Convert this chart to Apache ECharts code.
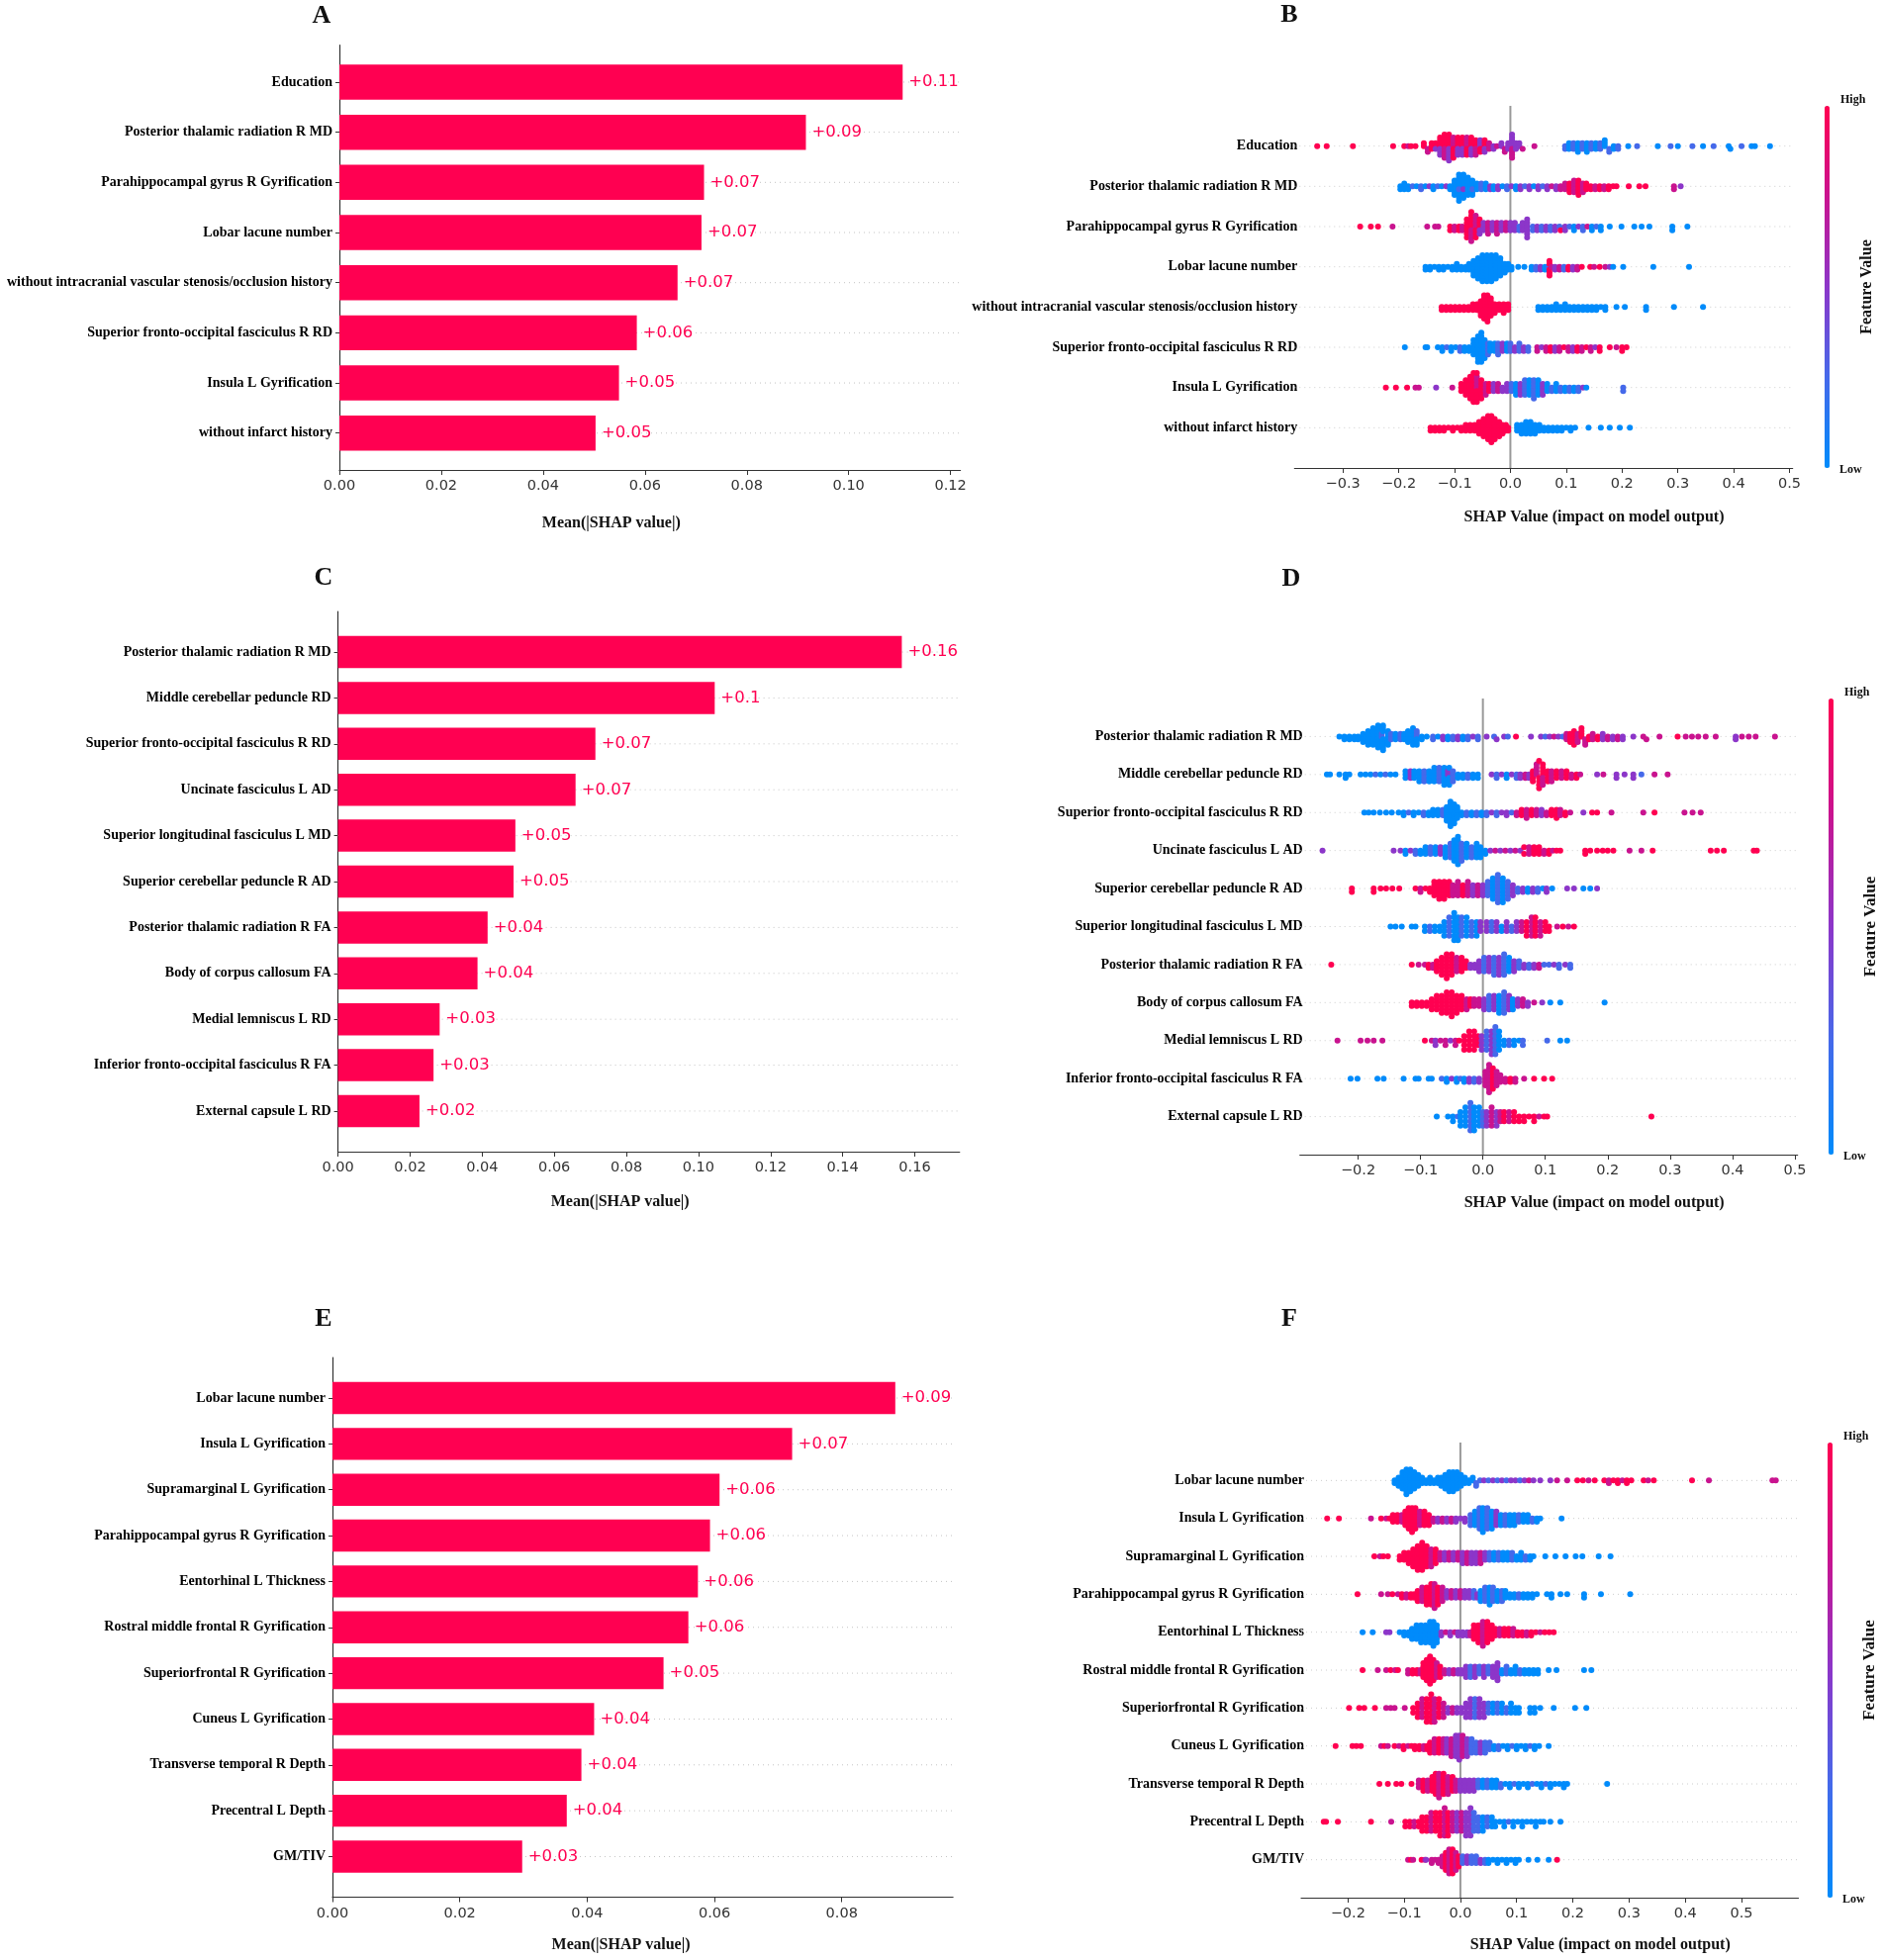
<!DOCTYPE html>
<html>
<head>
<meta charset="utf-8">
<title>SHAP summary</title>
<script src="https://cdn.jsdelivr.net/npm/echarts@6.0.0/dist/echarts.min.js"></script>
<style>
html,body{margin:0;padding:0;background:#fff}
#main{width:1902px;height:1981px}
</style>
</head>
<body>
<div id="main"></div>
<script>
// ---------- data ----------
// bar panels: mean(|SHAP|) per feature, top to bottom
var featA = ['Education', 'Posterior thalamic radiation R MD', 'Parahippocampal gyrus R Gyrification', 'Lobar lacune number',
  'without intracranial vascular stenosis/occlusion history', 'Superior fronto-occipital fasciculus R RD', 'Insula L Gyrification', 'without infarct history'];
var valA = [0.1106, 0.0916, 0.0716, 0.0711, 0.0664, 0.0584, 0.0549, 0.0503];
var ticksA = [0, 0.02, 0.04, 0.06, 0.08, 0.10, 0.12];

var featC = ['Posterior thalamic radiation R MD', 'Middle cerebellar peduncle RD', 'Superior fronto-occipital fasciculus R RD', 'Uncinate fasciculus L AD',
  'Superior longitudinal fasciculus L MD', 'Superior cerebellar peduncle R AD', 'Posterior thalamic radiation R FA', 'Body of corpus callosum FA',
  'Medial lemniscus L RD', 'Inferior fronto-occipital fasciculus R FA', 'External capsule L RD'];
var valC = [0.1564, 0.1045, 0.0714, 0.0659, 0.0492, 0.0487, 0.0415, 0.0387, 0.0282, 0.0265, 0.0226];
var ticksC = [0, 0.02, 0.04, 0.06, 0.08, 0.10, 0.12, 0.14, 0.16];

var featE = ['Lobar lacune number', 'Insula L Gyrification', 'Supramarginal L Gyrification', 'Parahippocampal gyrus R Gyrification',
  'Eentorhinal L Thickness', 'Rostral middle frontal R Gyrification', 'Superiorfrontal R Gyrification', 'Cuneus L Gyrification',
  'Transverse temporal R Depth', 'Precentral L Depth', 'GM/TIV'];
var valE = [0.0884, 0.0722, 0.0608, 0.0593, 0.0574, 0.0559, 0.0520, 0.0411, 0.0391, 0.0368, 0.0298];
var ticksE = [0, 0.02, 0.04, 0.06, 0.08];

// beeswarm panels: each entry is [shap value, feature value 0(low)..4(high), how many dots]
var featB = featA;
var ticksB = [-0.3, -0.2, -0.1, 0, 0.1, 0.2, 0.3, 0.4, 0.5];
var swarmB = [
  [[-0.346,4,1],[-0.329,4,1],[-0.282,4,1],[-0.21,4,1],[-0.19,4,1],[-0.183,3,1],[-0.178,4,1],[-0.17,4,1],
   [-0.155,4,2],[-0.148,3,2],[-0.141,4,3],[-0.134,4,2],[-0.134,2,1],
   [-0.126,4,4],[-0.126,2,3],[-0.118,4,5],[-0.118,3,4],[-0.110,4,5],[-0.110,2,5],[-0.102,3,4],[-0.102,4,4],[-0.094,4,4],[-0.094,2,3],
   [-0.086,4,4],[-0.086,2,3],[-0.078,3,4],[-0.078,4,3],[-0.070,4,4],[-0.070,2,3],[-0.062,4,3],[-0.062,3,3],
   [-0.054,2,3],[-0.054,4,2],[-0.046,4,3],[-0.046,2,2],[-0.038,3,3],[-0.030,2,2],[-0.024,3,1],
   [-0.016,2,2],[-0.010,3,2],[-0.004,2,3],[0.003,2,5],[0.003,3,4],[0.010,2,3],[0.016,2,2],[0.022,3,1],[0.043,3,1],
   [0.098,1,2],[0.105,0,3],[0.113,1,3],[0.121,0,4],[0.129,1,3],[0.137,0,4],[0.145,1,3],[0.153,0,3],[0.161,1,3],[0.169,0,3],[0.177,1,2],[0.185,0,2],[0.193,1,2],
   [0.211,0,1],[0.227,1,1],[0.264,0,1],[0.287,1,1],[0.30,0,1],[0.326,1,1],[0.345,0,1],[0.364,1,1],[0.391,0,1],[0.394,0,1],[0.414,1,1],[0.432,0,1],[0.438,0,1],[0.465,0,1]],
  [[-0.197,0,2],[-0.19,0,3],[-0.183,0,2],[-0.175,1,1],[-0.168,0,1],[-0.16,1,2],[-0.152,0,1],[-0.145,2,1],[-0.138,0,2],[-0.13,1,1],[-0.123,0,1],[-0.115,2,1],[-0.108,0,2],
   [-0.100,0,6],[-0.092,0,9],[-0.092,1,1],[-0.084,0,8],[-0.084,2,1],[-0.076,0,7],[-0.068,0,5],[-0.068,1,1],
   [-0.060,0,3],[-0.052,1,3],[-0.044,0,3],[-0.036,2,2],[-0.030,0,2],
   [-0.022,2,2],[-0.014,0,1],[-0.006,1,2],[0.002,2,1],[0.010,0,2],[0.018,2,2],[0.026,1,1],[0.034,2,2],[0.042,0,1],[0.050,2,2],[0.058,1,1],[0.066,2,2],[0.074,3,1],[0.082,2,2],[0.090,3,2],
   [0.098,3,3],[0.106,4,4],[0.114,3,5],[0.122,4,6],[0.130,3,4],[0.136,4,3],
   [0.144,4,2],[0.152,3,2],[0.160,4,2],[0.168,3,2],[0.176,4,2],[0.184,4,1],
   [0.19,4,1],[0.212,4,1],[0.231,4,1],[0.242,4,1],[0.293,3,2],[0.305,2,1]],
  [[-0.269,4,1],[-0.25,4,1],[-0.237,4,1],[-0.211,3,1],[-0.149,3,1],[-0.135,3,1],[-0.129,3,1],
   [-0.108,4,2],[-0.100,3,2],[-0.092,4,2],[-0.086,3,2],
   [-0.078,4,6],[-0.070,4,5],[-0.070,3,4],[-0.062,3,4],[-0.062,4,3],[-0.055,4,3],[-0.055,2,2],
   [-0.048,2,3],[-0.040,3,4],[-0.032,2,3],[-0.024,3,4],[-0.016,2,3],[-0.008,3,3],
   [0.000,2,3],[0.008,2,3],[0.016,1,2],[0.022,2,3],[0.030,2,6],
   [0.040,1,2],[0.048,2,2],[0.056,1,2],[0.064,2,2],[0.072,1,2],[0.080,2,2],[0.088,1,1],[0.090,4,1],
   [0.098,2,2],[0.106,1,1],[0.114,0,2],[0.122,2,1],[0.130,1,2],[0.138,3,1],[0.146,0,2],[0.154,1,1],[0.162,0,2],
   [0.178,0,1],[0.199,0,1],[0.222,0,1],[0.235,0,1],[0.249,0,1],[0.29,0,2],[0.317,0,1]],
  [[-0.152,0,2],[-0.144,0,2],[-0.136,0,1],[-0.128,0,2],[-0.120,0,2],[-0.112,0,1],[-0.104,0,2],[-0.096,0,3],[-0.088,0,2],[-0.080,0,2],[-0.074,0,3],
   [-0.066,0,6],[-0.058,0,8],[-0.050,0,10],[-0.042,0,10],[-0.034,0,10],[-0.026,0,9],[-0.018,0,7],[-0.010,0,4],
   [-0.004,0,3],[0.002,0,2],[0.014,0,1],[0.025,0,1],
   [0.038,0,2],[0.046,1,2],[0.054,2,2],[0.062,0,2],[0.068,1,1],[0.070,4,5],[0.074,3,1],
   [0.080,2,2],[0.088,3,2],[0.096,1,2],[0.104,4,2],[0.112,2,2],[0.120,3,2],[0.128,4,1],
   [0.143,4,1],[0.150,3,1],[0.160,4,1],[0.170,3,1],[0.178,2,1],[0.184,0,1],[0.202,0,1],[0.256,0,1],[0.32,0,1]],
  [[-0.123,4,2],[-0.115,4,2],[-0.107,4,2],[-0.099,4,2],[-0.091,4,2],[-0.083,4,2],[-0.075,4,2],[-0.067,4,3],[-0.060,4,3],
   [-0.053,4,6],[-0.047,4,9],[-0.041,4,10],[-0.035,4,7],
   [-0.028,4,4],[-0.020,4,3],[-0.012,4,4],[-0.004,4,3],
   [0.050,0,2],[0.058,0,2],[0.066,0,2],[0.074,0,2],[0.082,0,3],[0.090,0,2],[0.098,0,3],[0.106,0,2],[0.114,0,2],[0.122,0,2],[0.130,0,2],[0.138,0,2],[0.146,0,2],[0.154,0,2],[0.162,0,1],[0.170,0,2],
   [0.19,0,1],[0.205,0,1],[0.243,0,2],[0.293,0,1],[0.345,0,1]],
  [[-0.189,0,1],[-0.152,0,1],[-0.149,0,1],
   [-0.130,0,1],[-0.122,0,2],[-0.114,1,1],[-0.106,0,2],[-0.098,0,1],[-0.090,1,2],[-0.082,0,2],[-0.074,0,2],
   [-0.066,0,5],[-0.058,0,8],[-0.052,0,9],[-0.046,0,6],[-0.040,1,4],[-0.036,0,3],
   [-0.028,0,3],[-0.022,1,4],[-0.014,2,3],[-0.006,0,3],[0.000,1,3],
   [0.008,2,2],[0.016,1,3],[0.024,2,2],[0.032,1,2],
   [0.048,3,2],[0.056,2,1],[0.064,3,2],[0.072,4,2],[0.080,2,2],[0.088,3,2],[0.096,4,1],[0.104,3,2],[0.112,2,2],[0.120,4,2],[0.128,3,2],[0.136,4,1],[0.144,3,2],[0.152,2,1],[0.160,4,2],
   [0.178,4,1],[0.190,3,1],[0.200,4,2],[0.208,4,1]],
  [[-0.223,4,1],[-0.205,4,1],[-0.185,4,1],[-0.17,3,1],[-0.164,3,1],[-0.133,2,1],[-0.104,3,1],
   [-0.088,4,3],[-0.080,4,5],[-0.072,4,7],[-0.066,4,9],[-0.060,3,4],[-0.060,4,5],[-0.052,4,6],[-0.044,3,4],[-0.038,4,3],
   [-0.030,2,3],[-0.022,3,3],[-0.014,2,2],[-0.006,2,3],
   [0.002,1,3],[0.010,0,4],[0.018,2,4],[0.026,1,5],[0.034,0,5],[0.042,1,6],[0.050,0,5],[0.058,2,4],[0.066,0,3],
   [0.074,1,2],[0.082,0,3],[0.090,1,2],[0.098,0,2],[0.106,1,2],[0.114,0,2],[0.122,1,2],[0.130,2,1],[0.136,0,1],[0.202,1,2]],
  [[-0.143,4,2],[-0.135,4,2],[-0.127,4,2],[-0.119,4,2],[-0.111,4,1],[-0.103,4,2],[-0.095,4,1],[-0.088,4,2],
   [-0.080,4,3],[-0.072,4,3],[-0.064,4,3],
   [-0.056,4,5],[-0.048,4,7],[-0.040,4,9],[-0.034,4,10],[-0.028,4,8],[-0.020,4,6],[-0.014,4,4],[-0.008,4,3],[-0.004,4,2],
   [0.012,0,3],[0.020,0,4],[0.028,0,5],[0.036,0,5],[0.044,0,4],
   [0.052,0,3],[0.060,0,2],[0.068,0,2],[0.076,0,2],[0.084,0,2],[0.092,0,2],[0.100,0,1],[0.108,0,2],[0.116,0,1],
   [0.14,0,1],[0.162,0,1],[0.178,0,1],[0.196,0,1],[0.214,0,1]]
];

var featD = ['Posterior thalamic radiation R MD', 'Middle cerebellar peduncle RD', 'Superior fronto-occipital fasciculus R RD', 'Uncinate fasciculus L AD',
  'Superior cerebellar peduncle R AD', 'Superior longitudinal fasciculus L MD', 'Posterior thalamic radiation R FA', 'Body of corpus callosum FA',
  'Medial lemniscus L RD', 'Inferior fronto-occipital fasciculus R FA', 'External capsule L RD'];
var ticksD = [-0.2, -0.1, 0, 0.1, 0.2, 0.3, 0.4, 0.5];
var swarmD = [
  [[-0.230,0,1],[-0.222,0,2],[-0.214,0,2],[-0.206,0,2],[-0.200,0,2],
   [-0.192,0,4],[-0.184,0,6],[-0.176,0,7],[-0.168,0,9],[-0.162,1,2],[-0.160,0,8],[-0.152,0,6],[-0.147,1,3],
   [-0.140,0,3],[-0.132,1,3],[-0.126,0,3],[-0.120,0,5],[-0.112,0,7],[-0.106,1,3],[-0.106,0,3],[-0.098,0,2],[-0.090,0,1],
   [-0.080,1,2],[-0.072,0,1],[-0.064,2,2],[-0.056,0,2],[-0.048,1,2],[-0.040,2,2],[-0.032,0,2],[-0.024,1,2],[-0.016,2,1],[-0.008,1,2],
   [0.006,2,1],[0.018,1,1],[0.022,2,1],[0.034,2,1],[0.040,1,1],[0.053,4,1],[0.077,2,1],
   [0.093,2,1],[0.100,1,1],[0.107,2,1],[0.114,3,1],[0.121,2,1],[0.128,1,1],
   [0.134,3,3],[0.140,4,4],[0.146,4,6],[0.152,3,4],[0.158,4,4],[0.164,3,3],[0.170,4,2],
   [0.176,3,3],[0.184,4,2],[0.192,2,3],[0.200,3,2],[0.208,2,2],[0.216,3,2],[0.224,2,2],
   [0.241,2,1],[0.257,3,1],[0.262,3,1],[0.283,3,1],[0.312,4,1],[0.325,3,1],[0.335,3,1],[0.345,3,1],[0.357,3,1],[0.373,3,1],[0.405,2,2],[0.415,3,1],[0.426,3,1],[0.437,3,1],[0.468,3,1]],
  [[-0.25,0,1],[-0.245,0,1],[-0.23,0,1],[-0.22,0,2],[-0.214,0,1],[-0.196,0,1],[-0.188,0,1],
   [-0.180,0,1],[-0.172,1,1],[-0.164,0,1],[-0.156,1,1],[-0.148,0,1],[-0.140,0,1],
   [-0.124,0,3],[-0.116,2,3],[-0.110,0,3],
   [-0.102,0,4],[-0.094,1,4],[-0.086,0,4],[-0.078,0,5],[-0.070,1,5],[-0.062,0,6],[-0.056,2,2],[-0.054,0,4],[-0.048,1,4],
   [-0.040,0,2],[-0.032,0,2],[-0.024,1,2],[-0.016,0,2],[-0.008,0,2],
   [0.014,2,1],[0.022,1,2],[0.030,2,1],[0.038,0,2],[0.046,2,1],[0.054,1,2],
   [0.060,2,2],[0.068,3,2],[0.074,2,2],
   [0.080,4,4],[0.086,3,4],[0.090,4,5],[0.096,4,4],[0.096,3,3],[0.104,4,4],[0.110,3,4],
   [0.118,4,3],[0.126,3,3],[0.134,4,3],[0.142,3,2],[0.150,4,2],
   [0.156,3,1],[0.183,2,1],[0.193,3,1],[0.214,2,2],[0.227,2,1],[0.241,2,2],[0.254,1,1],[0.275,3,1],[0.296,3,1]],
  [[-0.19,0,1],[-0.183,0,1],[-0.175,0,1],[-0.165,0,1],[-0.155,0,1],[-0.146,0,1],
   [-0.135,0,1],[-0.127,0,2],[-0.119,1,1],[-0.111,0,2],[-0.103,0,1],[-0.095,1,2],[-0.087,0,2],
   [-0.080,0,3],[-0.072,0,3],[-0.064,1,3],
   [-0.058,0,6],[-0.052,0,10],[-0.046,0,8],[-0.041,0,5],
   [-0.034,0,2],[-0.026,1,2],[-0.018,0,2],[-0.010,1,2],[-0.002,0,2],[0.006,1,2],
   [0.014,2,1],[0.022,1,2],[0.030,2,1],[0.038,2,2],[0.046,1,1],
   [0.054,3,2],[0.062,4,3],[0.070,3,4],[0.078,4,3],[0.086,3,3],[0.094,2,3],[0.102,3,2],[0.110,4,3],[0.118,4,4],[0.124,3,3],[0.132,4,2],[0.140,3,1],
   [0.161,2,1],[0.175,4,1],[0.183,4,1],[0.206,3,1],[0.257,3,1],[0.275,4,1],[0.323,3,1],[0.336,3,1],[0.349,3,1]],
  [[-0.257,2,1],[-0.143,2,1],
   [-0.132,2,1],[-0.124,0,2],[-0.116,2,1],[-0.108,1,2],[-0.100,0,2],
   [-0.092,0,3],[-0.084,1,3],[-0.076,0,3],[-0.068,2,3],
   [-0.060,0,4],[-0.052,1,5],[-0.046,0,7],[-0.040,0,9],[-0.034,1,6],[-0.026,0,5],[-0.018,1,4],[-0.010,0,5],[-0.004,0,4],[0.004,0,2],
   [0.012,2,1],[0.020,3,1],[0.028,2,1],[0.036,3,1],[0.044,2,1],[0.052,3,1],[0.060,2,1],
   [0.066,4,2],[0.074,3,3],[0.082,4,3],[0.090,4,3],[0.098,3,2],[0.106,4,2],[0.112,3,1],
   [0.118,4,1],[0.124,4,1],[0.164,4,2],[0.172,4,1],[0.183,4,1],[0.192,4,1],[0.20,4,1],[0.209,4,1],[0.235,3,1],[0.254,3,1],[0.272,4,1],
   [0.365,4,1],[0.375,4,1],[0.386,4,1],[0.434,4,1],[0.439,4,1]],
  [[-0.21,4,2],[-0.175,4,2],[-0.164,4,1],[-0.155,4,1],[-0.145,4,1],[-0.134,4,1],
   [-0.108,4,1],[-0.100,3,2],[-0.092,4,1],[-0.085,4,2],
   [-0.078,4,5],[-0.070,4,6],[-0.062,4,6],[-0.054,4,5],[-0.048,3,4],
   [-0.040,3,5],[-0.032,4,4],[-0.024,3,5],[-0.016,2,4],[-0.008,3,4],[0.000,2,4],
   [0.008,1,5],[0.016,0,7],[0.024,1,9],[0.032,0,8],[0.040,1,6],[0.048,2,4],
   [0.056,1,2],[0.064,2,2],[0.072,0,2],[0.080,2,2],[0.088,1,2],[0.096,0,1],[0.102,2,2],
   [0.111,0,1],[0.135,2,1],[0.146,2,1],[0.161,0,1],[0.172,0,1],[0.183,2,1]],
  [[-0.148,0,1],[-0.14,0,1],[-0.13,0,1],[-0.114,0,1],[-0.108,0,1],
   [-0.093,0,2],[-0.085,1,2],[-0.077,0,2],[-0.069,0,2],
   [-0.062,0,4],[-0.054,1,5],[-0.046,0,7],[-0.040,0,6],[-0.034,1,5],[-0.026,0,5],[-0.018,1,4],[-0.010,0,4],[-0.004,2,3],
   [0.006,2,3],[0.014,1,3],[0.022,2,3],[0.030,0,2],[0.038,2,3],[0.046,1,2],
   [0.054,2,3],[0.062,3,3],[0.070,4,4],[0.078,3,5],[0.084,4,5],[0.092,3,4],[0.100,4,3],
   [0.106,4,2],[0.119,3,1],[0.128,4,1],[0.137,3,1],[0.146,4,1]],
  [[-0.243,4,1],[-0.114,4,1],[-0.103,3,1],[-0.093,3,1],[-0.087,4,2],[-0.080,3,2],
   [-0.074,4,4],[-0.066,4,6],[-0.058,4,8],[-0.050,4,7],[-0.042,3,5],[-0.034,4,5],[-0.027,4,3],
   [-0.020,2,2],[-0.013,2,2],
   [-0.006,2,4],[0.002,1,5],[0.010,2,5],[0.018,1,6],[0.026,2,6],[0.034,1,7],[0.042,0,5],[0.050,2,4],[0.058,1,3],
   [0.066,2,2],[0.074,1,2],[0.082,2,2],[0.090,3,2],[0.098,1,1],
   [0.106,1,1],[0.114,2,1],[0.122,1,2],[0.132,2,1],[0.140,1,2]],
  [[-0.114,4,2],[-0.106,4,2],[-0.098,4,2],[-0.090,4,2],
   [-0.082,4,4],[-0.074,4,5],[-0.066,4,6],[-0.058,4,7],[-0.050,4,8],[-0.042,4,6],[-0.034,4,5],[-0.026,3,4],[-0.020,4,3],
   [-0.014,3,3],[-0.006,3,3],
   [0.002,2,4],[0.010,1,5],[0.018,2,5],[0.026,0,6],[0.034,1,7],[0.042,2,5],[0.048,0,4],
   [0.056,2,3],[0.064,3,3],[0.072,2,2],
   [0.082,3,1],[0.095,2,1],[0.108,0,1],[0.124,0,1],[0.195,0,1]],
  [[-0.233,3,1],[-0.196,3,1],[-0.185,3,1],[-0.175,3,1],[-0.161,3,1],[-0.093,4,1],
   [-0.082,3,1],[-0.076,2,2],[-0.068,3,1],[-0.060,3,2],[-0.052,2,1],[-0.044,3,2],[-0.038,4,1],
   [-0.030,4,4],[-0.022,4,5],[-0.014,4,5],[-0.008,4,3],
   [-0.002,2,4],[0.006,1,5],[0.014,2,6],[0.020,1,7],[0.026,0,5],
   [0.034,0,2],[0.042,1,2],[0.050,0,2],[0.058,0,1],[0.064,1,2],
   [0.103,1,1],[0.124,0,1],[0.135,0,1]],
  [[-0.212,0,1],[-0.201,0,1],[-0.169,0,1],[-0.159,0,1],[-0.127,0,1],[-0.108,0,1],[-0.103,0,1],[-0.087,0,1],[-0.082,0,1],
   [-0.066,1,1],[-0.058,0,2],[-0.050,2,1],[-0.042,0,2],[-0.036,1,1],
   [-0.030,0,2],[-0.022,2,2],[-0.014,1,2],[-0.006,2,2],
   [0.004,3,5],[0.010,3,9],[0.016,4,7],[0.022,3,5],[0.028,3,3],
   [0.036,3,2],[0.044,4,2],[0.052,3,2],
   [0.066,3,1],[0.082,4,1],[0.098,4,1],[0.111,4,1]],
  [[-0.074,0,1],[-0.056,0,1],[-0.048,0,2],[-0.04,1,1],
   [-0.036,0,4],[-0.028,0,5],[-0.020,1,7],[-0.014,0,6],[-0.006,0,5],[0.000,1,4],
   [0.006,2,4],[0.014,3,5],[0.022,2,4],[0.028,3,3],
   [0.034,4,3],[0.042,3,3],[0.050,4,3],[0.058,4,2],
   [0.066,4,2],[0.074,4,1],[0.082,4,2],[0.090,3,1],[0.098,4,1],[0.103,4,1],[0.27,4,1]]
];

var featF = featE;
var ticksF = [-0.2, -0.1, 0, 0.1, 0.2, 0.3, 0.4, 0.5];
var swarmF = [
  [[-0.117,0,2],[-0.110,0,4],[-0.103,0,7],[-0.096,0,10],[-0.089,0,9],[-0.082,0,7],[-0.075,0,5],
   [-0.068,0,3],[-0.061,0,2],[-0.054,0,3],[-0.047,0,2],[-0.040,0,3],
   [-0.034,0,4],[-0.027,0,6],[-0.020,0,8],[-0.013,0,8],[-0.006,0,7],[0.001,0,5],[0.008,0,3],
   [0.015,0,2],[0.022,0,2],[0.028,1,2],
   [0.035,1,1],[0.042,2,1],[0.050,1,1],[0.058,2,1],[0.066,1,1],[0.074,2,1],[0.082,1,1],[0.090,2,1],[0.098,2,1],[0.106,1,1],[0.114,2,1],[0.122,3,1],[0.130,2,1],
   [0.142,2,1],[0.16,2,1],[0.172,3,1],[0.19,3,1],[0.208,4,1],[0.218,4,1],[0.228,3,1],[0.239,4,1],
   [0.256,4,1],[0.264,3,2],[0.272,4,1],[0.280,4,2],[0.288,3,1],[0.296,4,2],[0.304,4,1],
   [0.326,4,1],[0.334,3,1],[0.344,4,1],[0.412,4,1],[0.442,3,1],[0.555,3,1],[0.561,3,1]],
  [[-0.237,4,1],[-0.216,4,1],[-0.159,3,1],[-0.141,4,1],[-0.132,3,1],[-0.126,4,1],
   [-0.120,4,3],[-0.112,4,3],[-0.104,3,3],
   [-0.098,4,5],[-0.092,4,7],[-0.086,4,8],[-0.080,4,7],[-0.072,3,5],[-0.064,4,5],[-0.056,4,4],
   [-0.048,3,2],[-0.040,2,2],[-0.032,3,2],[-0.024,2,2],[-0.016,3,2],[-0.008,2,2],[0.000,2,1],[0.008,2,2],
   [0.018,1,4],[0.026,0,5],[0.034,1,7],[0.040,0,8],[0.048,1,7],[0.056,0,6],[0.064,2,5],
   [0.072,0,4],[0.080,1,4],[0.088,0,4],[0.096,0,4],[0.104,1,3],[0.112,0,3],[0.120,0,3],[0.128,1,2],[0.136,0,2],[0.142,0,1],[0.18,0,1]],
  [[-0.153,4,1],[-0.143,3,1],[-0.137,4,1],[-0.129,4,1],[-0.108,4,2],[-0.100,4,3],
   [-0.092,4,4],[-0.084,4,6],[-0.076,4,8],[-0.068,4,9],[-0.060,4,7],[-0.052,3,6],[-0.044,4,5],
   [-0.036,3,3],[-0.028,2,3],[-0.020,3,3],[-0.012,2,3],[-0.004,3,3],
   [0.004,2,4],[0.012,3,4],[0.020,2,4],[0.028,2,4],[0.036,3,4],[0.044,2,3],[0.052,1,3],
   [0.060,0,3],[0.068,1,3],[0.076,0,3],[0.084,0,3],[0.092,1,3],[0.100,0,2],[0.108,0,3],[0.116,1,2],[0.124,0,2],[0.130,0,1],
   [0.151,0,1],[0.169,0,1],[0.187,0,1],[0.205,0,1],[0.217,0,1],[0.246,0,1],[0.267,0,1]],
  [[-0.183,4,1],[-0.141,3,1],[-0.129,3,1],[-0.121,4,1],[-0.111,3,1],
   [-0.104,4,2],[-0.096,3,2],[-0.088,4,2],[-0.082,4,2],
   [-0.076,4,4],[-0.068,3,5],[-0.060,4,6],[-0.052,4,7],[-0.046,3,8],[-0.040,4,6],[-0.032,3,5],
   [-0.024,2,3],[-0.016,3,3],[-0.008,2,3],[0.000,3,3],[0.008,2,3],[0.016,2,3],[0.024,1,3],[0.030,2,2],
   [0.036,0,4],[0.044,1,5],[0.052,0,6],[0.058,1,5],[0.066,0,4],[0.074,1,4],[0.080,0,3],
   [0.088,0,2],[0.096,0,2],[0.104,1,2],[0.112,0,2],[0.120,0,2],[0.128,0,2],[0.136,0,1],
   [0.154,0,1],[0.162,0,2],[0.178,0,1],[0.19,0,1],[0.22,0,2],[0.25,0,1],[0.302,0,1]],
  [[-0.174,0,1],[-0.156,0,1],[-0.132,2,1],[-0.126,2,1],[-0.108,0,1],[-0.100,0,2],[-0.092,0,2],
   [-0.086,0,4],[-0.078,0,5],[-0.070,0,6],[-0.062,0,6],[-0.054,0,7],[-0.048,0,8],[-0.042,0,6],
   [-0.034,2,2],[-0.026,3,1],[-0.018,2,2],[-0.010,3,1],[-0.004,2,2],[0.004,2,2],[0.012,2,2],[0.018,3,2],
   [0.024,4,5],[0.032,4,6],[0.040,3,8],[0.048,4,7],[0.056,4,5],
   [0.062,4,3],[0.070,3,3],[0.078,4,3],[0.086,4,3],[0.094,3,3],[0.102,4,2],[0.110,4,2],[0.118,3,2],[0.126,4,2],
   [0.134,4,1],[0.142,3,1],[0.150,4,1],[0.158,4,1],[0.166,4,1]],
  [[-0.174,4,1],[-0.147,3,1],[-0.132,3,1],[-0.124,4,1],[-0.116,3,1],[-0.111,4,1],
   [-0.093,3,2],[-0.085,4,2],[-0.077,4,2],[-0.071,3,2],
   [-0.066,4,5],[-0.060,4,7],[-0.054,4,9],[-0.048,4,7],[-0.042,3,5],[-0.036,4,4],
   [-0.028,3,2],[-0.020,2,2],[-0.012,3,2],[-0.004,2,2],[0.002,2,2],
   [0.010,2,4],[0.018,1,4],[0.026,2,4],[0.034,1,3],[0.042,2,4],[0.050,1,3],[0.058,2,4],[0.066,2,6],
   [0.074,0,2],[0.082,1,3],[0.090,0,2],[0.098,0,3],[0.106,1,2],[0.114,0,2],[0.122,0,2],[0.130,0,2],[0.138,0,2],
   [0.157,0,1],[0.171,0,1],[0.22,0,1],[0.233,0,1]],
  [[-0.198,4,1],[-0.18,4,1],[-0.171,4,1],[-0.152,4,1],[-0.132,3,1],[-0.124,3,1],[-0.117,3,1],[-0.099,3,1],
   [-0.084,4,2],[-0.076,4,4],[-0.068,3,5],[-0.060,4,6],[-0.052,4,7],[-0.046,3,6],[-0.038,4,5],[-0.030,3,4],
   [-0.022,2,2],[-0.014,3,2],[-0.006,2,2],[0.002,2,2],
   [0.010,2,4],[0.018,2,5],[0.026,1,5],[0.034,2,5],[0.042,2,4],
   [0.050,1,3],[0.058,0,3],[0.066,1,3],[0.074,0,3],[0.082,1,2],[0.090,0,3],[0.098,0,2],[0.104,0,2],
   [0.124,0,2],[0.132,0,2],[0.142,0,1],[0.166,0,1],[0.204,0,1],[0.224,0,1]],
  [[-0.222,4,1],[-0.192,4,1],[-0.185,4,1],[-0.177,4,1],[-0.141,3,1],[-0.135,4,1],[-0.129,3,1],
   [-0.117,4,1],[-0.109,3,1],[-0.101,4,2],[-0.093,3,1],[-0.087,4,1],
   [-0.081,4,2],[-0.073,4,2],[-0.065,3,2],[-0.059,4,2],
   [-0.054,4,4],[-0.046,3,5],[-0.038,4,5],[-0.030,3,5],
   [-0.024,2,5],[-0.016,3,6],[-0.008,2,7],[-0.002,2,8],[0.004,3,7],[0.012,2,6],[0.020,1,5],
   [0.028,1,4],[0.036,2,4],[0.044,1,4],[0.052,1,3],
   [0.060,0,2],[0.068,1,2],[0.076,0,1],[0.084,0,2],[0.092,1,1],[0.100,0,2],[0.108,0,1],[0.116,0,2],[0.124,1,1],[0.132,0,2],[0.140,0,1],[0.157,0,1]],
  [[-0.144,4,1],[-0.129,4,1],[-0.114,4,1],[-0.105,4,1],[-0.087,4,1],
   [-0.074,3,3],[-0.066,4,4],[-0.058,3,4],
   [-0.050,4,5],[-0.044,4,7],[-0.038,3,8],[-0.030,4,7],[-0.022,3,6],[-0.014,4,5],[-0.008,3,4],
   [0.000,2,4],[0.008,2,4],[0.016,2,4],[0.024,2,4],[0.032,1,3],
   [0.040,0,3],[0.048,1,3],[0.056,0,3],[0.064,0,3],
   [0.072,1,2],[0.080,0,1],[0.088,0,2],[0.096,1,1],[0.104,0,2],[0.112,0,1],[0.120,0,2],[0.128,1,1],[0.136,0,1],[0.144,0,2],[0.152,1,1],[0.160,0,2],[0.168,0,1],[0.176,0,1],[0.184,0,2],[0.190,0,1],
   [0.261,0,1]],
  [[-0.243,4,1],[-0.239,4,1],[-0.218,4,1],[-0.159,4,1],[-0.123,3,1],
   [-0.098,4,2],[-0.090,4,2],[-0.082,3,2],[-0.074,4,2],
   [-0.068,4,4],[-0.060,4,4],[-0.052,3,5],[-0.044,4,5],[-0.036,4,6],[-0.028,3,7],[-0.022,4,6],
   [-0.014,3,5],[-0.006,2,5],[0.002,3,5],[0.010,2,6],[0.018,2,7],[0.024,1,5],
   [0.032,1,4],[0.040,0,4],[0.048,1,3],[0.056,0,3],
   [0.062,0,2],[0.070,0,1],[0.078,0,2],[0.086,1,1],[0.094,0,2],[0.102,0,1],[0.110,0,2],[0.118,0,1],[0.126,0,1],[0.134,0,2],[0.142,0,1],
   [0.148,0,1],[0.16,0,1],[0.178,0,1]],
  [[-0.093,3,1],[-0.088,4,1],[-0.084,3,1],[-0.069,4,1],[-0.063,3,1],[-0.061,2,1],
   [-0.051,3,2],[-0.045,3,1],[-0.039,3,2],
   [-0.032,3,4],[-0.026,4,6],[-0.020,3,8],[-0.014,4,8],[-0.008,3,6],[-0.003,4,4],
   [0.004,1,3],[0.012,2,3],[0.020,1,3],[0.028,1,3],[0.036,2,2],[0.044,1,2],
   [0.050,0,2],[0.058,0,1],[0.066,0,2],[0.074,0,1],[0.082,0,2],[0.090,0,1],[0.098,0,2],[0.104,0,1],
   [0.121,0,1],[0.137,0,1],[0.157,0,1],[0.172,4,1]]
];

// ---------- styling ----------
var RED = '#ff0051';
var RB = ['#008bfb', '#4569ea', '#8c36c9', '#c9138f', '#ff0051'];
var SERIF = '"Liberation Serif", "Times New Roman", serif';
var SANS = '"DejaVu Sans", sans-serif';

var grids = [], xAxes = [], yAxes = [], series = [], visualMaps = [], graphics = [];

function idxOf(names) { return names.map(function (d, i) { return i; }); }
function fmt1(v) { return (v < 0 ? '\u2212' : '') + Math.abs(v).toFixed(1); }
function plusLab(v) { return '+' + Number(v.toFixed(2)); }

function letter(t, x, y) {
  graphics.push({ type: 'text', x: x, y: y, style: { text: t, fill: '#111', font: 'bold 26px ' + SERIF, textAlign: 'center', textVerticalAlign: 'middle', align: 'center', verticalAlign: 'middle' } });
}

function xName(title, gap, shift) {
  var pad = shift > 0 ? [0, 0, 0, 2 * shift] : [0, -2 * shift, 0, 0];
  return {
    name: title, nameLocation: 'middle', nameGap: gap,
    nameTextStyle: { fontFamily: SERIF, fontWeight: 'bold', fontSize: 16, color: '#111', padding: pad }
  };
}

// horizontal bar panel (mean |SHAP|)
function barPanel(names, vals, ticks, box) {
  var gi = grids.length, n = names.length, idx = idxOf(names);
  var xmax = Math.max.apply(null, vals) * 1.05 * 1.05;
  var pad = 0.35 + 0.05 * (n - 1 + 0.7);
  grids.push({ left: box.left, top: box.top, width: box.width, height: box.height, containLabel: false, outerBoundsMode: 'none' });
  xAxes.push(Object.assign({
    type: 'value', gridIndex: gi, min: 0, max: xmax,
    axisLine: { show: true, onZero: false, lineStyle: { color: '#333', width: 1.2 } },
    axisTick: { show: true, length: 5, customValues: ticks, lineStyle: { color: '#333' } },
    axisLabel: { customValues: ticks, formatter: function (v) { return v.toFixed(2); }, fontFamily: SANS, fontSize: 14.5, color: '#333', margin: 9 },
    splitLine: { show: false }
  }, xName('Mean(|SHAP value|)', box.gap, box.shift)));
  yAxes.push({
    type: 'value', gridIndex: gi, inverse: true, min: -pad, max: n - 1 + pad,
    axisLine: { show: true, onZero: false, lineStyle: { color: '#333', width: 1.2 } },
    axisTick: { show: true, length: 4, customValues: idx, lineStyle: { color: '#333' } },
    axisLabel: { customValues: idx, formatter: function (v) { return names[v]; }, fontFamily: SERIF, fontWeight: 'bold', fontSize: 14, color: '#000', margin: 7 },
    splitLine: { show: false }
  });
  series.push({
    type: 'custom', xAxisIndex: gi, yAxisIndex: gi,
    data: vals.map(function (v, i) { return [v, i]; }),
    renderItem: function (params, api) {
      var v = api.value(0), i = api.value(1);
      var a = api.coord([0, i]), b = api.coord([v, i]), e = api.coord([xmax, i]);
      var h = api.size([0, 0.7])[1];
      return {
        type: 'group', children: [
          { type: 'line', shape: { x1: a[0], y1: a[1], x2: e[0], y2: e[1] }, style: { stroke: '#c4c4c4', lineWidth: 1, lineDash: [1, 4] } },
          { type: 'rect', shape: { x: a[0], y: a[1] - h / 2, width: b[0] - a[0], height: h }, style: { fill: RED } },
          { type: 'text', x: b[0] + 6, y: b[1], style: { text: plusLab(v), fill: RED, font: '16.5px ' + SANS, textAlign: 'left', textVerticalAlign: 'middle', align: 'left', verticalAlign: 'middle' } }
        ]
      };
    }
  });
}

// beeswarm layout as in shap: 100 bins per row, dots stacked alternately up/down,
// outermost layer at 0.36 of a row
function swarmRow(entries, row) {
  var pts = [];
  entries.forEach(function (e, j) {
    for (var k = 0; k < (e[2] || 1); k++) pts.push({ x: e[0], c: e[1], k: k, j: j });
  });
  var lo = Infinity, hi = -Infinity;
  pts.forEach(function (p) { lo = Math.min(lo, p.x); hi = Math.max(hi, p.x); });
  pts.forEach(function (p) { p.q = Math.round(100 * (p.x - lo) / (hi - lo + 1e-8)); });
  var order = pts.slice().sort(function (a, b) { return a.q - b.q || a.k - b.k || a.j - b.j; });
  var layer = 0, last = -1, top = 1;
  order.forEach(function (p) {
    if (p.q !== last) layer = 0;
    p.ys = Math.ceil(layer / 2) * ((layer % 2) * 2 - 1);
    layer++; last = p.q;
    if (p.ys > top) top = p.ys;
  });
  var s = 0.36 / top;
  return pts.map(function (p) { return [p.x, row + p.ys * s, p.c]; });
}

function swarmPanel(names, rows, ticks, box, cb) {
  var gi = grids.length, n = names.length, idx = idxOf(names);
  var pts = [];
  rows.forEach(function (r, i) { pts = pts.concat(swarmRow(r, i)); });
  var lo = Infinity, hi = -Infinity;
  pts.forEach(function (p) { lo = Math.min(lo, p[0]); hi = Math.max(hi, p[0]); });
  var span = hi - lo, xmin = lo - 0.05 * span, xmax = hi + 0.05 * span;
  grids.push({ left: box.left, top: box.top, width: box.width, height: box.height, containLabel: false, outerBoundsMode: 'none' });
  xAxes.push(Object.assign({
    type: 'value', gridIndex: gi, min: xmin, max: xmax,
    axisLine: { show: true, onZero: false, lineStyle: { color: '#333', width: 1.2 } },
    axisTick: { show: true, length: 5, customValues: ticks, lineStyle: { color: '#333' } },
    axisLabel: { customValues: ticks, formatter: fmt1, fontFamily: SANS, fontSize: 14.5, color: '#333', margin: 9 },
    splitLine: { show: false }
  }, xName('SHAP Value (impact on model output)', box.gap, box.shift)));
  yAxes.push({
    type: 'value', gridIndex: gi, inverse: true, min: -1, max: n,
    axisLine: { show: false, onZero: false }, axisTick: { show: false },
    axisLabel: { customValues: idx, formatter: function (v) { return names[v]; }, fontFamily: SERIF, fontWeight: 'bold', fontSize: 14, color: '#000', margin: -3 },
    splitLine: { show: false }
  });
  // dotted row lines and the zero line, behind the dots
  series.push({
    type: 'custom', xAxisIndex: gi, yAxisIndex: gi, z: 1,
    data: idx.map(function (i) { return [0, i]; }),
    renderItem: function (params, api) {
      var i = api.value(1);
      var a = api.coord([xmin, i]), b = api.coord([xmax, i]);
      var kids = [{ type: 'line', shape: { x1: a[0], y1: a[1], x2: b[0], y2: b[1] }, style: { stroke: '#cccccc', lineWidth: 1, lineDash: [1, 4] } }];
      if (i === 0) {
        var t = api.coord([0, -1]), u = api.coord([0, n]);
        kids.push({ type: 'line', shape: { x1: t[0], y1: t[1], x2: u[0], y2: u[1] }, style: { stroke: '#999999', lineWidth: 2 } });
      }
      return { type: 'group', children: kids };
    }
  });
  series.push({
    type: 'scatter', xAxisIndex: gi, yAxisIndex: gi, z: 3, data: pts,
    symbol: 'circle', symbolSize: 6, progressive: 0, large: false,
    itemStyle: { opacity: 1 }, emphasis: { disabled: true }
  });
  visualMaps.push({
    type: 'continuous', seriesIndex: series.length - 1, dimension: 2, min: 0, max: 4,
    inRange: { color: RB }, orient: 'vertical', left: cb.left, top: box.top,
    itemWidth: 5, itemHeight: box.height, calculable: false, text: null, padding: 0, hoverLink: false
  });
  var lab = 'bold 12px ' + SERIF;
  graphics.push({ type: 'text', x: cb.left + 16, y: box.top - 6, style: { text: 'High', fill: '#111', font: lab, textAlign: 'left', textVerticalAlign: 'middle', align: 'left', verticalAlign: 'middle' } });
  graphics.push({ type: 'text', x: cb.left + 15, y: box.top + box.height + 2, style: { text: 'Low', fill: '#111', font: lab, textAlign: 'left', textVerticalAlign: 'middle', align: 'left', verticalAlign: 'middle' } });
  graphics.push({ type: 'text', x: cb.left + 43, y: box.top + box.height / 2, rotation: Math.PI / 2, style: { text: 'Feature Value', fill: '#111', font: 'bold ' + cb.fs + 'px ' + SERIF, textAlign: 'center', textVerticalAlign: 'middle', align: 'center', verticalAlign: 'middle' } });
}

barPanel(featA, valA, ticksA, { left: 343, top: 45.7, width: 627.6, height: 429.3, gap: 46, shift: -39 });
swarmPanel(featB, swarmB, ticksB, { left: 1308.3, top: 107, width: 503.4, height: 366, gap: 42, shift: 51 }, { left: 1844, fs: 16 });
barPanel(featC, valC, ticksC, { left: 341.6, top: 618, width: 628.2, height: 546, gap: 43, shift: -29 });
swarmPanel(featD, swarmD, ticksD, { left: 1313.7, top: 706, width: 503, height: 461, gap: 41, shift: 46 }, { left: 1848, fs: 17 });
barPanel(featE, valE, ticksE, { left: 336, top: 1372, width: 627.1, height: 545.5, gap: 40, shift: -22 });
swarmPanel(featF, swarmF, ticksF, { left: 1315, top: 1458, width: 502.5, height: 460, gap: 40, shift: 51 }, { left: 1847, fs: 17 });

letter('A', 325, 16);
letter('B', 1303, 15);
letter('C', 327, 584);
letter('D', 1305, 585);
letter('E', 327, 1333);
letter('F', 1303, 1333);

var myChart = echarts.init(document.getElementById('main'), null, { renderer: 'canvas' });
myChart.setOption({
  animation: false,
  backgroundColor: '#ffffff',
  grid: grids,
  xAxis: xAxes,
  yAxis: yAxes,
  visualMap: visualMaps,
  series: series,
  graphic: { elements: graphics }
});
</script>
</body>
</html>
